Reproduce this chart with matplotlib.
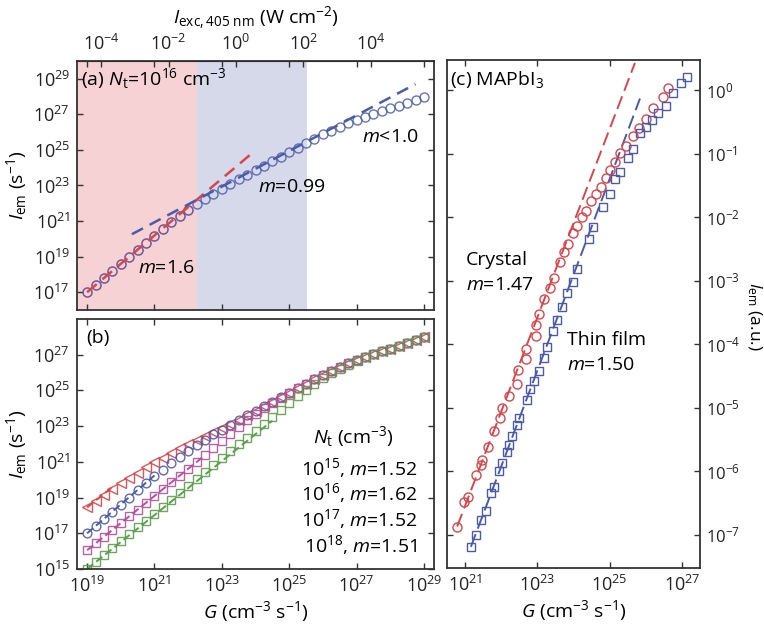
import numpy as np
import matplotlib
matplotlib.use('Agg')
import matplotlib.pyplot as plt
from matplotlib.ticker import NullLocator

plt.rcParams['font.family'] = 'Open Sans'
plt.rcParams['mathtext.fontset'] = 'custom'
plt.rcParams['mathtext.rm'] = 'Open Sans'
plt.rcParams['mathtext.it'] = 'Open Sans:italic'
plt.rcParams['mathtext.bf'] = 'Open Sans:bold'
plt.rcParams['font.size'] = 13

# --------------------------
# data (log10 values)
# --------------------------
log_g = [19.00, 19.25, 19.50, 19.75, 20.00, 20.25, 20.50, 20.75, 21.00, 21.25,
         21.50, 21.75, 22.00, 22.25, 22.50, 22.75, 23.00, 23.25, 23.50, 23.75,
         24.00, 24.25, 24.50, 24.75, 25.00, 25.25, 25.50, 25.75, 26.00, 26.25,
         26.50, 26.75, 27.00, 27.25, 27.50, 27.75, 28.00, 28.25, 28.50, 28.75,
         29.00]

# Nt = 1e16 (panel a, and blue in b)
log_i_16 = [17.00, 17.40, 17.80, 18.20, 18.60, 19.00, 19.40, 19.79, 20.18, 20.56,
            20.93, 21.29, 21.63, 21.95, 22.25, 22.54, 22.81, 23.08, 23.34, 23.60,
            23.86, 24.12, 24.37, 24.62, 24.88, 25.13, 25.38, 25.63, 25.87, 26.09,
            26.31, 26.51, 26.70, 26.87, 27.03, 27.18, 27.33, 27.48, 27.63, 27.80,
            27.97]
log_i_15 = [18.45, 18.80, 19.14, 19.47, 19.79, 20.10, 20.40, 20.69, 20.97, 21.24,
            21.50, 21.75, 21.99, 22.23, 22.46, 22.68, 22.90, 23.13, 23.37, 23.61,
            23.86, 24.12, 24.37, 24.62, 24.88, 25.13, 25.38, 25.63, 25.87, 26.09,
            26.31, 26.51, 26.70, 26.87, 27.03, 27.18, 27.33, 27.48, 27.63, 27.80,
            27.97]
log_i_17 = [16.05, 16.43, 16.81, 17.19, 17.57, 17.95, 18.33, 18.71, 19.09, 19.47,
            19.85, 20.23, 20.61, 20.99, 21.37, 21.76, 22.15, 22.56, 22.97, 23.35,
            23.70, 24.02, 24.31, 24.58, 24.85, 25.11, 25.38, 25.63, 25.87, 26.09,
            26.31, 26.51, 26.70, 26.87, 27.03, 27.18, 27.33, 27.48, 27.63, 27.80,
            27.97]
log_i_18 = [15.00, 15.39, 15.78, 16.16, 16.55, 16.94, 17.33, 17.71, 18.10, 18.49,
            18.88, 19.26, 19.65, 20.04, 20.43, 20.81, 21.20, 21.59, 21.98, 22.36,
            22.75, 23.14, 23.53, 23.91, 24.29, 24.66, 25.02, 25.36, 25.67, 25.95,
            26.21, 26.45, 26.66, 26.87, 27.03, 27.18, 27.33, 27.48, 27.63, 27.80,
            27.97]

# fit lines panel (a): (logG start, logI start, logG end, logI end)
fit_a_low = (19.0, 17.0, 23.95, 24.9)
fit_a_mid = (20.33, 20.26, 28.75, 28.7)

# fit lines panel (b): (logG end, slope) starting from first point
fit_b = {'15': (19.8, 1.52), '16': (21.0, 1.62), '17': (22.5, 1.52), '18': (24.5, 1.51)}

# shaded regimes (log G)
pink_end = 22.26
blue_end = 25.53

# panel (c): MAPbI3
crystal_g = [20.78, 20.98, 21.09, 21.30, 21.43, 21.47, 21.64, 21.80, 21.97, 22.03,
             22.21, 22.44, 22.46, 22.69, 22.69, 22.95, 22.97, 23.04, 23.19, 23.36,
             23.47, 23.63, 23.74, 23.86, 23.98, 24.11, 24.23, 24.35, 24.48, 24.61,
             24.75, 24.90, 25.02, 25.14, 25.28, 25.46, 25.65, 25.81, 26.01, 26.21,
             26.47, 26.61]
crystal_i = [-6.87, -6.48, -6.41, -6.06, -5.90, -5.82, -5.61, -5.37, -5.16, -5.00,
             -4.82, -4.62, -4.41, -4.23, -4.07, -3.87, -3.70, -3.53, -3.28, -3.11,
             -2.95, -2.71, -2.55, -2.42, -2.24, -2.13, -2.00, -1.90, -1.75, -1.63,
             -1.53, -1.38, -1.26, -1.13, -0.98, -0.88, -0.72, -0.59, -0.45, -0.28,
             -0.10, 0.03]
film_g = [21.16, 21.30, 21.43, 21.57, 21.71, 21.80, 21.94, 22.03, 22.15, 22.21,
          22.30, 22.44, 22.49, 22.72, 22.81, 22.92, 23.04, 23.18, 23.27, 23.43,
          23.54, 23.68, 23.82, 23.98, 24.11, 24.44, 24.55, 24.82, 25.01, 25.14,
          25.30, 25.51, 25.65, 25.83, 26.01, 26.18, 26.34, 26.56, 26.76, 26.98,
          27.13]
film_i = [-7.19, -7.00, -6.76, -6.63, -6.34, -6.24, -6.00, -5.87, -5.69, -5.58,
          -5.45, -5.27, -5.16, -4.87, -4.71, -4.58, -4.42, -4.21, -4.05, -3.79,
          -3.61, -3.41, -3.19, -3.02, -2.81, -2.34, -2.16, -1.84, -1.63, -1.39,
          -1.29, -1.07, -0.93, -0.68, -0.58, -0.47, -0.35, -0.24, -0.05, 0.11,
          0.21]
fit_c_crystal = (20.78, -6.87, 25.70, 0.43)
fit_c_film = (21.16, -7.19, 25.84, -0.13)

# I_exc = G / 10**g_shift
g_shift = 23.42

red = '#d8454b'
blue = '#4c5ba8'
magenta = '#b4519c'
green = '#5c9e4c'
spine_col = '#333333'

G = 10.0**np.array(log_g)


def style_axes(ax):
    for s in ax.spines.values():
        s.set_linewidth(1.3)
        s.set_color(spine_col)
    ax.tick_params(which='both', direction='in', length=4.5, width=1.0,
                   top=True, right=True, colors=spine_col, labelcolor='#222222',
                   pad=5)
    ax.xaxis.set_minor_locator(NullLocator())
    ax.yaxis.set_minor_locator(NullLocator())


fig = plt.figure(figsize=(7.64, 6.33), dpi=100)

# --------------------------
# panel (a)
# --------------------------
ax_a = fig.add_axes([0.1008, 0.5103, 0.4673, 0.3934])
ax_a.set_xscale('log')
ax_a.set_yscale('log')
ax_a.set_xlim(10**18.7, 10**29.3)
ax_a.set_ylim(1e16, 1e30)
ax_a.axvspan(10**18.7, 10**pink_end, color='#f6d2d4', lw=0, zorder=0)
ax_a.axvspan(10**pink_end, 10**blue_end, color='#d5d9ea', lw=0, zorder=0)

low = np.array(log_g) <= 22.0
ax_a.plot(G[low], 10.0**np.array(log_i_16)[low], 'o', ms=6.5, mfc='none',
          mec=red, mew=1.0, alpha=0.6)
ax_a.plot(G, 10.0**np.array(log_i_16), 'o', ms=6.5, mfc='none', mec=blue,
          mew=1.0, alpha=0.85)
ax_a.plot([10**fit_a_low[0], 10**fit_a_low[2]], [10**fit_a_low[1], 10**fit_a_low[3]],
          color=red, lw=1.8, dashes=(5, 3))
ax_a.plot([10**fit_a_mid[0], 10**fit_a_mid[2]], [10**fit_a_mid[1], 10**fit_a_mid[3]],
          color=blue, lw=1.8, dashes=(5, 3))

ax_a.set_xticks([10.0**k for k in range(19, 30, 2)])
ax_a.set_yticks([10.0**k for k in range(17, 30, 2)])
style_axes(ax_a)
ax_a.tick_params(labelbottom=False, labeltop=False)
ax_a.set_ylabel(r'$I_\mathrm{em}$ (s$^{-1}$)', fontsize=14, labelpad=3)

ax_a.text(0.012, 0.93, r'(a) $N_\mathrm{t}$=10$^{16}$ cm$^{-3}$', transform=ax_a.transAxes,
          fontsize=14, va='center', ha='left')
ax_a.text(0.171, 0.169, r'$m$=1.6', transform=ax_a.transAxes, fontsize=14, va='center')
ax_a.text(0.507, 0.494, r'$m$=0.99', transform=ax_a.transAxes, fontsize=14, va='center')
ax_a.text(0.798, 0.695, r'$m$<1.0', transform=ax_a.transAxes, fontsize=14, va='center')

sec = ax_a.secondary_xaxis('top', functions=(lambda g: g / 10**g_shift,
                                             lambda i: i * 10**g_shift))
sec.set_xticks([1e-4, 1e-2, 1e0, 1e2, 1e4])
sec.xaxis.set_minor_locator(NullLocator())
sec.tick_params(direction='in', length=4.5, width=1.0, colors=spine_col,
                labelcolor='#222222', pad=5)
sec.set_xlabel(r'$I_\mathrm{exc,405\ nm}$ (W cm$^{-2}$)', fontsize=14, labelpad=7)

# --------------------------
# panel (b)
# --------------------------
ax_b = fig.add_axes([0.1008, 0.1011, 0.4673, 0.3950])
ax_b.set_xscale('log')
ax_b.set_yscale('log')
ax_b.set_xlim(10**18.7, 10**29.3)
ax_b.set_ylim(1e15, 1e29)

series_b = [('15', log_i_15, red, '<', 6.5),
            ('16', log_i_16, blue, 'o', 6.3),
            ('17', log_i_17, magenta, 's', 5.6),
            ('18', log_i_18, green, 's', 5.6)]
for key, vals, col, mk, ms in series_b:
    ax_b.plot(G, 10.0**np.array(vals), mk, ms=ms, mfc='none', mec=col, mew=1.0,
              alpha=0.9)
    g_end, slope = fit_b[key]
    ax_b.plot([10**log_g[0], 10**g_end],
              [10**vals[0], 10**(vals[0] + slope * (g_end - log_g[0]))],
              color=col, lw=1.4, dashes=(4, 2))

ax_b.set_xticks([10.0**k for k in range(19, 30, 2)])
ax_b.set_yticks([10.0**k for k in range(15, 28, 2)])
style_axes(ax_b)
ax_b.set_ylabel(r'$I_\mathrm{em}$ (s$^{-1}$)', fontsize=14, labelpad=3)
ax_b.set_xlabel(r'$G$ (cm$^{-3}$ s$^{-1}$)', fontsize=14, labelpad=2)
ax_b.text(0.025, 0.925, '(b)', transform=ax_b.transAxes, fontsize=14, va='center')

ax_b.text(0.775, 0.53, r'$N_\mathrm{t}$ (cm$^{-3}$)', transform=ax_b.transAxes,
          fontsize=14, ha='center', va='center')
legend_lines = [r'10$^{15}$, $m$=1.52', r'10$^{16}$, $m$=1.62',
                r'10$^{17}$, $m$=1.52', r'10$^{18}$, $m$=1.51']
for k, s in enumerate(legend_lines):
    ax_b.text(0.952, 0.405 - k * 0.103, s, transform=ax_b.transAxes, fontsize=14,
              ha='right', va='center')

# --------------------------
# panel (c)
# --------------------------
ax_c = fig.add_axes([0.5851, 0.1027, 0.3311, 0.8025])
ax_c.set_xscale('log')
ax_c.set_yscale('log')
ax_c.set_xlim(10**20.5, 10**27.5)
ax_c.set_ylim(3e-8, 3)

ax_c.plot([10**fit_c_crystal[0], 10**fit_c_crystal[2]],
          [10**fit_c_crystal[1], 10**fit_c_crystal[3]], color=red, lw=1.4,
          dashes=(7, 3))
ax_c.plot([10**fit_c_film[0], 10**fit_c_film[2]],
          [10**fit_c_film[1], 10**fit_c_film[3]], color=blue, lw=1.4,
          dashes=(7, 3))
ax_c.plot(10.0**np.array(crystal_g), 10.0**np.array(crystal_i), 'o', ms=6.5,
          mfc='none', mec=red, mew=1.0)
ax_c.plot(10.0**np.array(film_g), 10.0**np.array(film_i), 's', ms=5.5,
          mfc='none', mec=blue, mew=1.0)

ax_c.set_xticks([10.0**k for k in range(21, 28, 2)])
ax_c.set_yticks([10.0**k for k in range(-7, 1)])
style_axes(ax_c)
ax_c.tick_params(axis='y', labelleft=False, labelright=True, labelsize=12, pad=4)
ax_c.set_xlabel(r'$G$ (cm$^{-3}$ s$^{-1}$)', fontsize=14, labelpad=2)
fig.text(0.999, 0.50, r'$I_\mathrm{em}$ (a.u.)', fontsize=12.5, rotation=270,
         ha='right', va='center')

ax_c.text(0.01, 0.962, r'(c) MAPbI$_3$', transform=ax_c.transAxes, fontsize=14,
          va='center')
ax_c.text(0.075, 0.607, 'Crystal', transform=ax_c.transAxes, fontsize=14, va='center')
ax_c.text(0.075, 0.557, r'$m$=1.47', transform=ax_c.transAxes, fontsize=14, va='center')
ax_c.text(0.475, 0.449, 'Thin film', transform=ax_c.transAxes, fontsize=14, va='center')
ax_c.text(0.475, 0.400, r'$m$=1.50', transform=ax_c.transAxes, fontsize=14, va='center')

fig.savefig('out.png', dpi=100)
